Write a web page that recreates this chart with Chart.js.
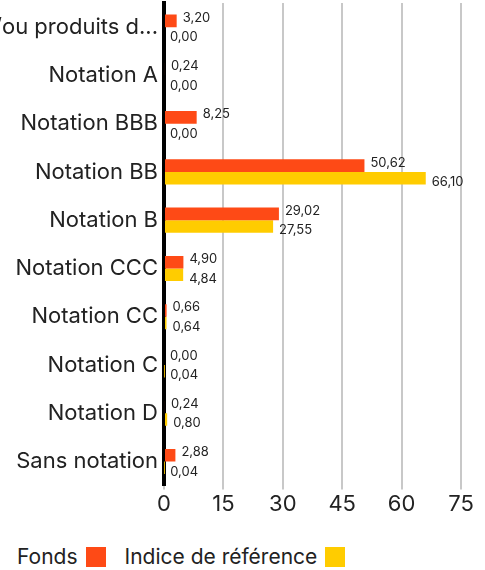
<!DOCTYPE html>
<html>
<head>
<meta charset="utf-8">
<script src="https://cdn.jsdelivr.net/npm/chart.js@4"></script>
<style>
  body { margin: 0; background: #fff; font-family: Inter, sans-serif; }
  #wrap { position: relative; width: 485px; height: 520px; }
  #legend { display: flex; align-items: center; padding-left: 17px; margin-top: 24px; font-size: 21px; color: #222; }
  #legend .box { width: 20px; height: 20px; margin-left: 8px; margin-right: 19px; }
</style>
</head>
<body>
<div id="wrap"><canvas id="chart"></canvas></div>
<div id="legend">
  <span>Fonds</span><span class="box" style="background:#fe4a16"></span>
  <span>Indice de référence</span><span class="box" style="background:#ffcc00"></span>
</div>
<script>
const categories = [
  "Liquidités et/ou produits d...",
  "Notation A",
  "Notation BBB",
  "Notation BB",
  "Notation B",
  "Notation CCC",
  "Notation CC",
  "Notation C",
  "Notation D",
  "Sans notation",
];
const fondsValues = [3.2, 0.24, 8.25, 50.62, 29.02, 4.9, 0.66, 0.0, 0.24, 2.88];
const indiceValues = [0.0, 0.0, 0.0, 66.1, 27.55, 4.84, 0.64, 0.04, 0.8, 0.04];
const xTicks = [0, 15, 30, 45, 60, 75];

const valueLabels = {
  id: "valueLabels",
  afterDatasetsDraw(chart) {
    const ctx = chart.ctx;
    ctx.save();
    ctx.font = "13px Inter, sans-serif";
    ctx.fillStyle = "#222";
    ctx.textBaseline = "middle";
    ctx.textAlign = "left";
    chart.data.datasets.forEach((ds, i) => {
      const meta = chart.getDatasetMeta(i);
      const dy = i === 0 ? -3 : 4;
      meta.data.forEach((bar, j) => {
        const text = Number(ds.data[j]).toFixed(2).replace(".", ",");
        ctx.fillText(text, bar.x + 6, bar.y + dy);
      });
    });
    ctx.restore();
  },
};

new Chart(document.getElementById("chart"), {
  type: "bar",
  data: {
    labels: categories,
    datasets: [
      { label: "Fonds", data: fondsValues, backgroundColor: "#fe4a16" },
      { label: "Indice de référence", data: indiceValues, backgroundColor: "#ffcc00" },
    ],
  },
  options: {
    indexAxis: "y",
    responsive: true,
    maintainAspectRatio: false,
    animation: false,
    layout: { padding: { top: 3, right: 24, bottom: 0, left: 0 } },
    datasets: { bar: { categoryPercentage: 0.52, barPercentage: 1 } },
    plugins: { legend: { display: false }, tooltip: { enabled: false } },
    scales: {
      y: {
        grid: { display: false, drawTicks: false },
        border: { color: "#000", width: 4 },
        ticks: { color: "#222", font: { family: "Inter", size: 22 }, padding: 6 },
        afterFit(scale) {
          scale.width = 164;
          scale.paddingTop = 0;
          scale.paddingBottom = 0;
        },
      },
      x: {
        min: 0,
        max: 75,
        afterBuildTicks(scale) { scale.ticks = xTicks.map((v) => ({ value: v })); },
        grid: { color: "#c8c8c8", lineWidth: 2, tickLength: 4 },
        border: { display: false },
        ticks: { color: "#222", font: { family: "Inter", size: 22 }, padding: 2 },
      },
    },
  },
  plugins: [valueLabels],
});
</script>
</body>
</html>
